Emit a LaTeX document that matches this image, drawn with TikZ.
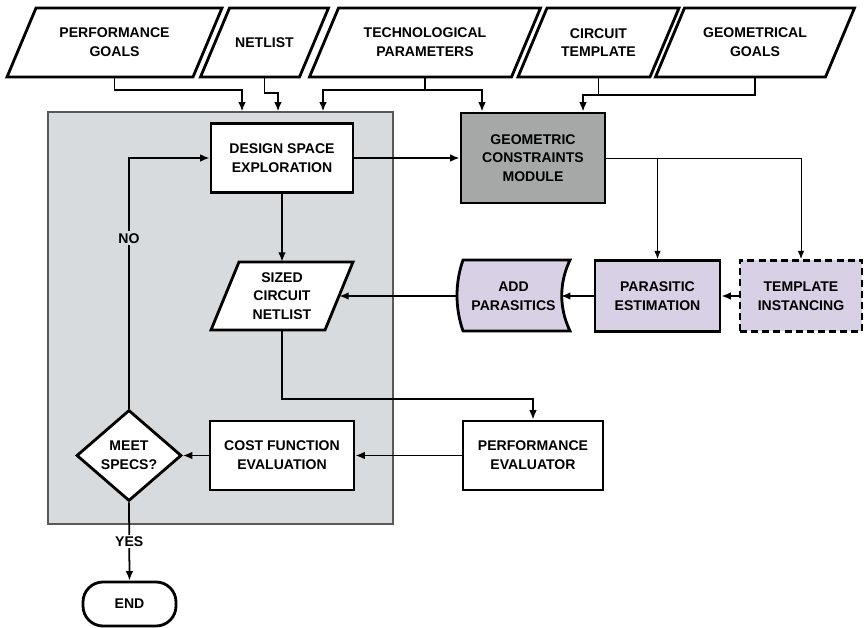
\documentclass[tikz,border=0pt]{standalone}
\usepackage{fontspec}
\setmainfont{Liberation Sans}
\usetikzlibrary{shapes.geometric,arrows.meta}
\definecolor{panelgray}{RGB}{216,219,222}
\definecolor{modgray}{RGB}{166,168,168}
\definecolor{lav}{RGB}{216,208,229}
\newcommand{\px}{0.03cm}
\newcommand{\boxfont}{\fontsize{12}{16}\selectfont\bfseries}
\begin{document}
\begin{tikzpicture}[x=\px,y=-\px,
	box/.style={draw, line width=2.4pt, fill=white, align=center, font=\boxfont, inner sep=0pt},
	edge/.style={line width=2.4pt, fill=white, line join=miter},
	lbl/.style={font=\boxfont, align=center, inner sep=1.5pt},
	lnk/.style={line width=1.5pt, -{Latex[length=8pt,width=6.5pt]}},
	fine/.style={line width=0.8pt, -{Latex[length=7pt,width=5.5pt]}}]
	\useasboundingbox (0,0) rectangle (866,628);
	\foreach \nm/\x/\w/\txt in {perf/114.5/186/{PERFORMANCE\\GOALS}, netlist/264.5/99/{NETLIST}, tech/425/202/{TECHNOLOGICAL\\PARAMETERS}, circ/598.5/132/{CIRCUIT\\TEMPLATE}, geom/755/170/{GEOMETRICAL\\GOALS}}
	{
		\draw[edge] (\x-\w/2-14.5,77) -- ++(\w,0) -- ++(29,-69) -- ++(-\w,0) -- cycle;
		\node[lbl, inner sep=0pt, minimum width=\w*\px, minimum height=69*\px] (\nm) at (\x,42.5) {\txt};
	}
	\node[draw=black!65, line width=1pt, fill=panelgray, minimum width=345*\px, minimum height=412*\px] (panel) at (220.5,318) {};
	\node[box, minimum width=142*\px, minimum height=69*\px] (dse) at (282,158) {DESIGN SPACE\\EXPLORATION};
	\draw[edge] (211,330) -- (325,330) -- (353,262) -- (239,262) -- cycle;
	\node[lbl, inner sep=0pt, minimum width=114*\px, minimum height=68*\px] (sized) at (282,296) {SIZED\\CIRCUIT\\NETLIST};
	\node[box, fill=modgray, minimum width=144*\px, minimum height=90*\px] (gcm) at (533,158) {GEOMETRIC\\CONSTRAINTS\\MODULE};
	\draw[edge, fill=lav] (463,260) -- (570,260) .. controls (559,283) and (559,308) .. (570,331) -- (463,331) .. controls (455,308) and (455,283) .. cycle;
	\node[lbl, inner sep=0pt, minimum width=113*\px, minimum height=71*\px] (addpar) at (513.5,296) {ADD\\PARASITICS};
	\node[box, fill=lav, minimum width=125*\px, minimum height=71*\px] (parest) at (657.5,296) {PARASITIC\\ESTIMATION};
	\node[box, fill=lav, dash pattern=on 6pt off 3.5pt, minimum width=122*\px, minimum height=71*\px] (templ) at (801,296) {TEMPLATE\\INSTANCING};
	\node[box, minimum width=140*\px, minimum height=69*\px] (peval) at (533,455.5) {PERFORMANCE\\EVALUATOR};
	\node[box, minimum width=144*\px, minimum height=69*\px] (cost) at (282,455.5) {COST FUNCTION\\EVALUATION};
	\node[box, diamond, aspect=1.15, minimum width=105*\px, minimum height=91*\px] (meet) at (129,455.5) {MEET\\SPECS?};
	\node[box, rounded corners=0.6cm, minimum width=93*\px, minimum height=44*\px] (done) at (129.5,604) {END};
	\coordinate (addin) at (561,296);
	\draw[lnk] (perf.south) |- (242,90) -- (242,0 |- panel.north);
	\draw[lnk] (netlist.south) |- (278,93) -- (278,0 |- panel.north);
	\draw[lnk] (tech.south) -- (425,90) -| (323,0 |- panel.north);
	\draw[lnk] (425,90) -| (482,0 |- gcm.north);
	\draw[lnk] (geom.south) |- (583,95) -- (583,0 |- gcm.north);
	\draw[line width=1.5pt] (circ.south) -- (circ.south |- 0,95);
	\draw[lnk] (dse.east) -- (gcm.west);
	\draw[lnk] (dse.south) -- (sized.north);
	\draw[fine] (gcm.east) -| (templ.north);
	\draw[fine] (parest.north |- gcm.east) -- (parest.north);
	\draw[lnk] (templ.west) -- (parest.east);
	\draw[lnk] (parest.west) -- (addin);
	\draw[lnk] (addpar.west) -- (sized.east);
	\draw[lnk] (sized.south) -- (282,399) -| (peval.north);
	\draw[lnk] (peval.west) -- (cost.east);
	\draw[lnk] (cost.west) -- (meet.east);
	\draw[lnk] (meet.north) |- (dse.west) node[lbl, pos=0.34, fill=panelgray] {NO};
	\draw[lnk] (meet.south) -- (done.north) node[lbl, pos=0.5, fill=white] {YES};
\end{tikzpicture}
\end{document}
